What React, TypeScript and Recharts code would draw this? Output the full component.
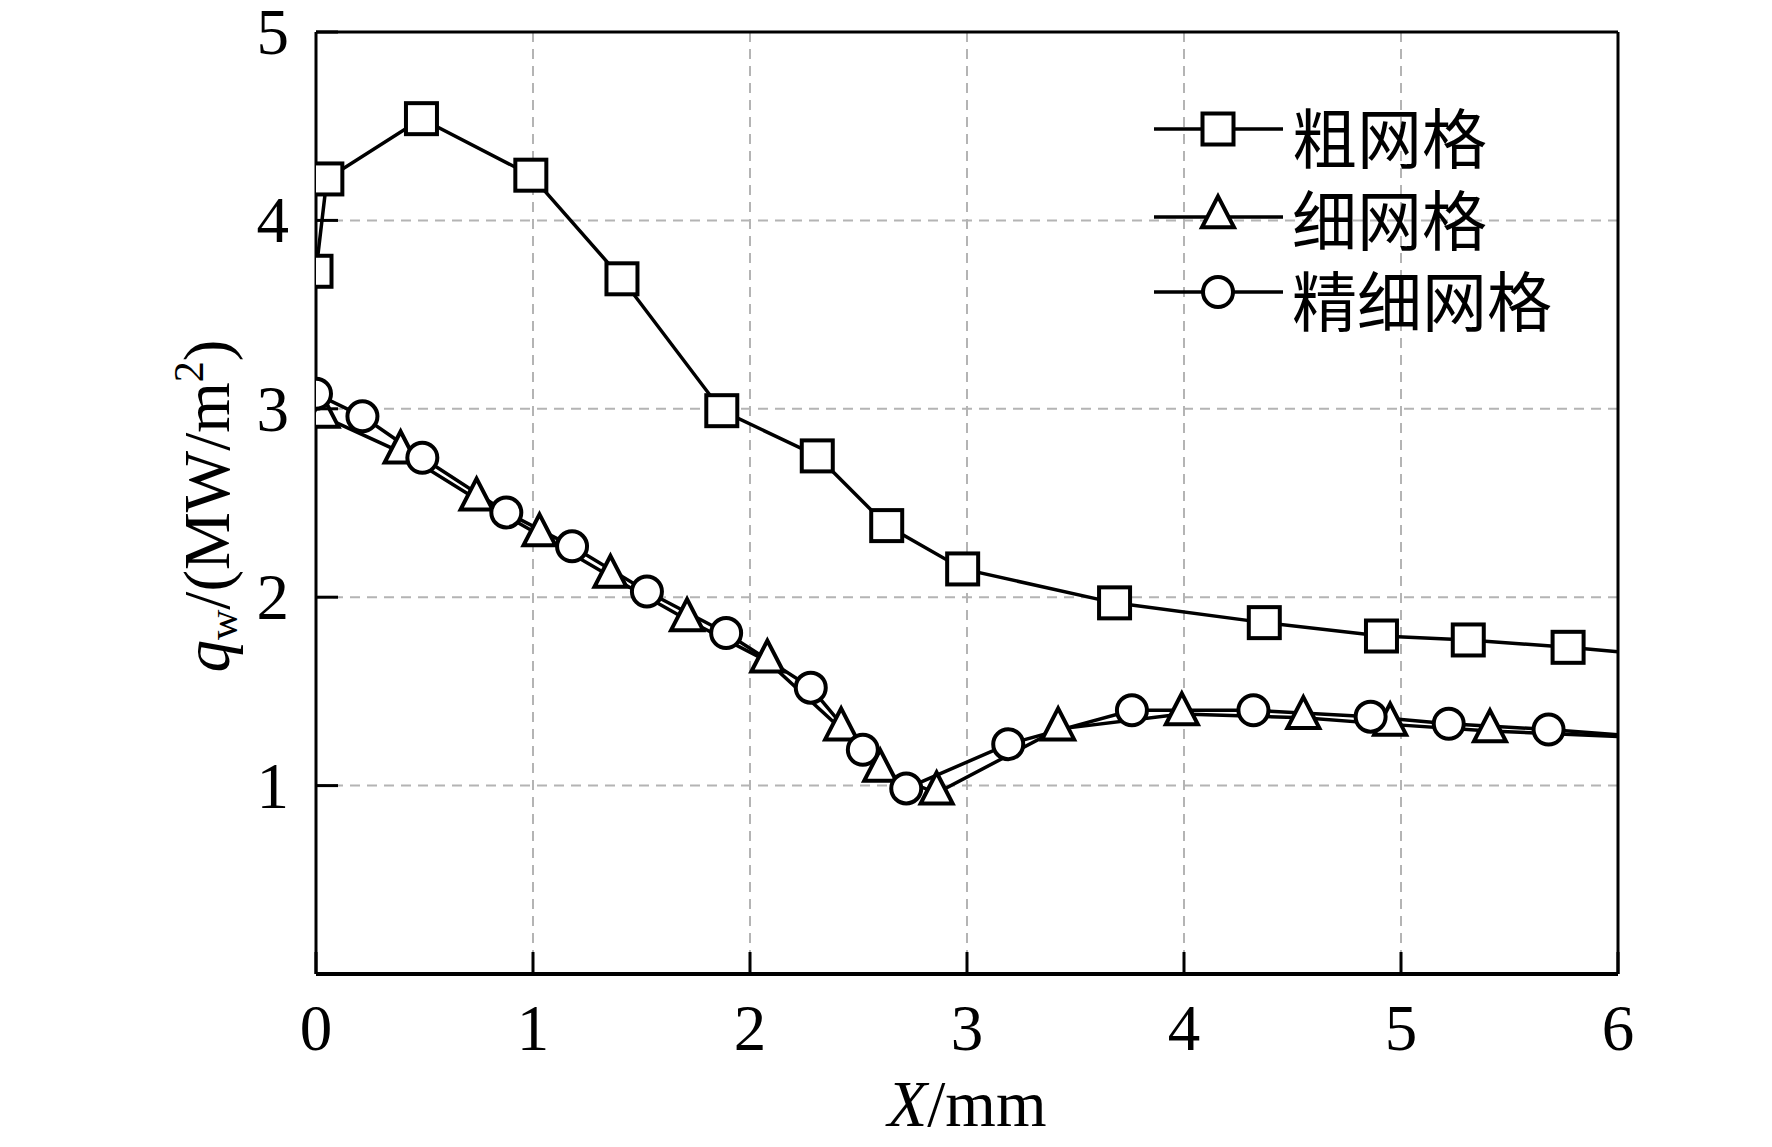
import React from "react";
import {
  LineChart,
  Line,
  XAxis,
  YAxis,
  CartesianGrid,
  ReferenceLine,
  Legend,
} from "recharts";

// ---- data ----
const coarseX = [0, 0.05, 0.486, 0.99, 1.41, 1.87, 2.31, 2.63, 2.98, 3.68, 4.37, 4.91, 5.31, 5.77, 6.0];
const coarseY = [3.73, 4.22, 4.54, 4.24, 3.69, 2.99, 2.75, 2.38, 2.15, 1.97, 1.865, 1.794, 1.773, 1.734, 1.71];

const fineX = [0.03, 0.39, 0.74, 1.03, 1.357, 1.71, 2.08, 2.42, 2.6, 2.86, 3.42, 3.99, 4.55, 4.95, 5.41, 6.0];
const fineY = [2.96, 2.77, 2.52, 2.33, 2.11, 1.88, 1.66, 1.3, 1.08, 0.96, 1.3, 1.38, 1.36, 1.325, 1.29, 1.26];

const finestX = [0, 0.214, 0.49, 0.877, 1.18, 1.525, 1.89, 2.28, 2.52, 2.72, 3.19, 3.76, 4.32, 4.86, 5.22, 5.68, 6.0];
const finestY = [3.08, 2.96, 2.74, 2.45, 2.27, 2.03, 1.81, 1.52, 1.19, 0.985, 1.22, 1.4, 1.4, 1.366, 1.328, 1.298, 1.27];

const xTicks = [0, 1, 2, 3, 4, 5, 6];
const yTicks = [1, 2, 3, 4, 5];

const seriesNames = ["粗网格", "细网格", "精细网格"];

const toRows = (xs: number[], ys: number[]) => xs.map((x, i) => ({ x, y: ys[i] }));
const coarseData = toRows(coarseX, coarseY);
const fineData = toRows(fineX, fineY);
const finestData = toRows(finestX, finestY);

// ---- styles ----
const SERIF = "'Liberation Serif', 'Times New Roman', serif";
const CJK = "'Noto Sans CJK SC', 'Noto Sans CJK JP', sans-serif";
const FS = 65;
const MARK_SW = 4;
const LINE_SW = 3.5;

type Shape = "square" | "triangle" | "circle";

function Marker({ cx, cy, shape }: { cx: number; cy: number; shape: Shape }) {
  if (shape === "square") {
    const h = 15.5;
    return (
      <rect x={cx - h} y={cy - h} width={2 * h} height={2 * h} fill="#fff" stroke="#000" strokeWidth={MARK_SW} />
    );
  }
  if (shape === "circle") {
    return <circle cx={cx} cy={cy} r={15} fill="#fff" stroke="#000" strokeWidth={MARK_SW} />;
  }
  const hw = 16;
  const h = 31;
  const d = `M${cx},${cy - (2 * h) / 3} L${cx + hw},${cy + h / 3} L${cx - hw},${cy + h / 3} Z`;
  return <path d={d} fill="#fff" stroke="#000" strokeWidth={MARK_SW} strokeLinejoin="miter" />;
}

const makeDot = (shape: Shape, n: number) => (props: any) => {
  const { cx, cy, index } = props;
  if (index === n - 1 || cx == null || cy == null) return <g key={`d-${shape}-${index}`} />;
  return (
    <g key={`d-${shape}-${index}`}>
      <Marker cx={cx} cy={cy} shape={shape} />
    </g>
  );
};

const XTick = (props: any) => {
  const { x, y, payload } = props;
  return (
    <g>
      <line x1={x} y1={y} x2={x} y2={y - 22} stroke="#000" strokeWidth={3} />
      <text x={x} y={y + 76} textAnchor="middle" fontFamily={SERIF} fontSize={FS} fill="#000">
        {payload.value}
      </text>
    </g>
  );
};

const YTick = (props: any) => {
  const { x, y, payload } = props;
  return (
    <g>
      <line x1={x} y1={y} x2={x + 22} y2={y} stroke="#000" strokeWidth={3} />
      <text x={x - 27} y={y} textAnchor="end" dominantBaseline="central" fontFamily={SERIF} fontSize={FS} fill="#000">
        {payload.value}
      </text>
    </g>
  );
};

const XLabel = () => (
  <text x={959} y={1118} textAnchor="middle" fontFamily={SERIF} fontSize={FS} fill="#000">
    <tspan fontStyle="italic">X</tspan>
    <tspan>/mm</tspan>
  </text>
);

const YLabel = () => (
  <text
    transform="translate(221, 498) rotate(-90)"
    textAnchor="middle"
    fontFamily={SERIF}
    fontSize={FS}
    fill="#000"
  >
    <tspan fontStyle="italic">q</tspan>
    <tspan fontSize={42} dy={8}>w</tspan>
    <tspan dy={-8}>/(MW/m</tspan>
    <tspan fontSize={42} dy={-26}>2</tspan>
    <tspan dy={26}>)</tspan>
  </text>
);

const legendShapes: Shape[] = ["square", "triangle", "circle"];
const legendLineY = [31, 119, 194];
const legendTextY = [37, 119, 200];

const LegendContent = () => (
  <svg width={500} height={260} style={{ overflow: "visible" }}>
    {seriesNames.map((name, i) => (
      <g key={name}>
        <line x1={6} y1={legendLineY[i]} x2={135} y2={legendLineY[i]} stroke="#000" strokeWidth={LINE_SW} />
        <Marker cx={70} cy={legendLineY[i]} shape={legendShapes[i]} />
        <text x={144} y={legendTextY[i]} dominantBaseline="central" fontFamily={CJK} fontSize={FS} fill="#000">
          {name}
        </text>
      </g>
    ))}
  </svg>
);

export default function App() {
  return (
    <div style={{ width: 1764, height: 1139, background: "#fff", fontFamily: SERIF }}>
      <LineChart width={1764} height={1139} margin={{ top: 24, right: 154, left: 0, bottom: 9 }}>
        <CartesianGrid stroke="#b4b4b4" strokeWidth={2} strokeDasharray="10 7" />
        <XAxis
          type="number"
          dataKey="x"
          domain={[0, 6]}
          ticks={xTicks}
          allowDataOverflow
          height={164}
          tickLine={false}
          tickSize={0}
          tickMargin={0}
          tick={<XTick />}
          axisLine={{ stroke: "#000", strokeWidth: 4 }}
          label={{ content: XLabel }}
        />
        <YAxis
          type="number"
          domain={[0, 5]}
          ticks={yTicks}
          allowDataOverflow
          width={308}
          tickLine={false}
          tickSize={0}
          tickMargin={0}
          tick={<YTick />}
          axisLine={{ stroke: "#000", strokeWidth: 3 }}
          label={{ content: YLabel }}
        />
        <ReferenceLine y={5} stroke="#000" strokeWidth={3} />
        <ReferenceLine x={6} stroke="#000" strokeWidth={3} />
        <Line
          data={fineData}
          dataKey="y"
          name={seriesNames[1]}
          type="linear"
          stroke="#000"
          strokeWidth={LINE_SW}
          dot={makeDot("triangle", fineData.length)}
          activeDot={false}
          isAnimationActive={false}
        />
        <Line
          data={finestData}
          dataKey="y"
          name={seriesNames[2]}
          type="linear"
          stroke="#000"
          strokeWidth={LINE_SW}
          dot={makeDot("circle", finestData.length)}
          activeDot={false}
          isAnimationActive={false}
        />
        <Line
          data={coarseData}
          dataKey="y"
          name={seriesNames[0]}
          type="linear"
          stroke="#000"
          strokeWidth={LINE_SW}
          dot={makeDot("square", coarseData.length)}
          activeDot={false}
          isAnimationActive={false}
        />
        <Legend
          layout="vertical"
          align="center"
          verticalAlign="middle"
          content={<LegendContent />}
          wrapperStyle={{ position: "absolute", left: 1140, top: 90, width: 500, height: 260 }}
        />
      </LineChart>
    </div>
  );
}
